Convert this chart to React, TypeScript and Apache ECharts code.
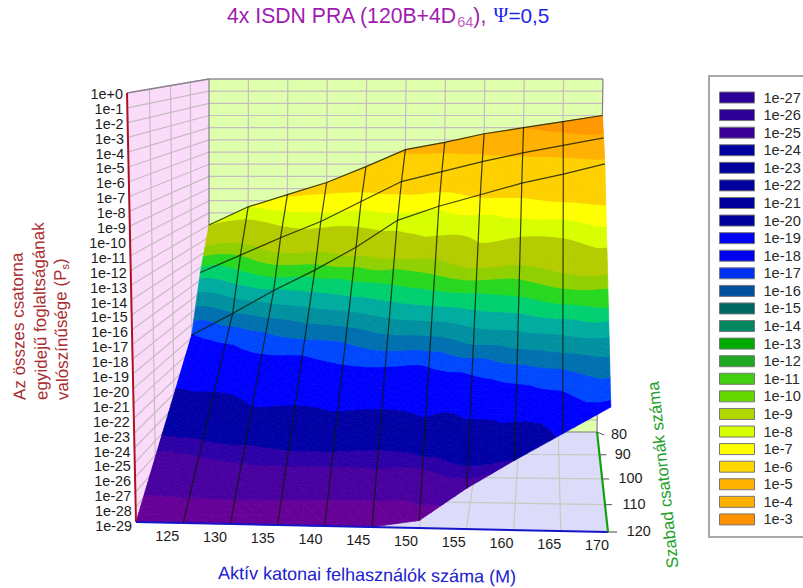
import React, { useEffect, useRef } from "react";
import * as echarts from "echarts";

// ---------- axes ----------
const xTicks = [120, 125, 130, 135, 140, 145, 150, 155, 160, 165, 170];
const yTicks = [80, 90, 100, 110, 120];
const zTicks = Array.from({ length: 30 }, (_, i) => -i);
const zTickLabels = ["1e+0","1e-1","1e-2","1e-3","1e-4","1e-5","1e-6","1e-7","1e-8","1e-9","1e-10","1e-11","1e-12","1e-13","1e-14","1e-15","1e-16","1e-17","1e-18","1e-19","1e-20","1e-21","1e-22","1e-23","1e-24","1e-25","1e-26","1e-27","1e-28","1e-29"];

// ---------- surface height, log10(Ps), for the free channel rows drawn ----------
const heightRows = [80, 85, 90, 120];
const height80 = [-12.0, -10.5, -9.5, -8.5, -7.2, -5.8, -5.2, -4.5, -4.0, -3.5, -3.0];
const height85 = [-15.4, -14.0, -12.6, -11.3, -9.7, -8.1, -7.3, -6.5, -5.8, -5.2, -4.6];
const height90 = [-19.8, -18.1, -16.3, -14.7, -12.9, -10.8, -9.7, -8.8, -7.9, -7.2, -6.4];
const height120 = [-29, -29, -29, -29, -29, -29, -28.5, -26.3, -24.4, -22.6, -20.8];
const heights = [height80, height85, height90, height120];

// ---------- contour shading level at each node ----------
const shadeRows = [80, 85, 90, 92.5, 95, 100, 105, 107.5, 110, 112.5, 115, 120];
const shade80 = [-9.0, -8.0, -6.9, -6.4, -5.7, -4.85, -4.57, -4.25, -4.0, -3.57, -3.06];
const shade85 = [-13.6, -12.0, -9.8, -8.5, -7.5, -6.35, -5.76, -5.28, -4.85, -4.52, -4.21];
const shade90 = [-18.06, -16.07, -14.14, -12.5, -10.23, -8.42, -7.91, -6.84, -6.23, -5.69, -5.18];
const shade925 = [-18.58, -17.35, -15.47, -13.98, -12.33, -9.89, -8.76, -8.27, -7.46, -6.66, -6.07];
const shade95 = [-19.09, -18.26, -16.85, -15.35, -13.85, -12.24, -11.0, -9.06, -8.5, -7.9, -6.98];
const shade100 = [-20.38, -19.41, -18.7, -18.0, -16.88, -15.28, -14.32, -13.0, -11.8, -10.23, -8.82];
const shade105 = [-23.66, -21.9, -20.05, -19.52, -19.03, -18.43, -17.84, -15.8, -14.52, -13.0, -11.86];
const shade1075 = [-24.5, -23.74, -22.18, -20.9, -19.88, -19.38, -18.91, -17.62, -15.77, -14.5, -12.9];
const shade110 = [-25.6, -24.85, -24.13, -23.32, -22.35, -21.05, -19.9, -18.69, -17.25, -15.68, -14.4];
const shade1125 = [-26.1, -25.66, -25.12, -24.75, -24.46, -24.05, -22.89, -19.62, -18.37, -17.0, -15.5];
const shade115 = [-26.77, -26.45, -26.1, -25.9, -25.67, -25.38, -24.92, -21.93, -19.23, -18.0, -16.48];
const shade120 = [-28.5, -28.5, -28.5, -28.63, -28.76, -28.74, -27.9, -25.81, -24.02, -19.56, -18.34];
const shades = [shade80, shade85, shade90, shade925, shade95, shade100, shade105, shade1075, shade110, shade1125, shade115, shade120];

// ---------- bands ----------
const bandLevels = [-28,-27,-26,-25,-24,-23,-22,-21,-20,-19,-18,-17,-16,-15,-14,-13,-12,-11,-10,-9,-8,-7,-6,-5,-4,-3];
const bandColors = ["#660099","#660099","#4800a0","#4800a0","#2c00a6","#0000a5","#0000a5","#0000a5","#0000a5","#0000ff","#0000ff","#0048ff","#0070b0","#0090a0","#00aca0","#00d070","#28d820","#90d000","#b4cc00","#b4cc00","#d8ff00","#ffff00","#ffd000","#ffd000","#ffb000","#ff9800"];
const legendLabels = ["1e-27","1e-26","1e-25","1e-24","1e-23","1e-22","1e-21","1e-20","1e-19","1e-18","1e-17","1e-16","1e-15","1e-14","1e-13","1e-12","1e-11","1e-10","1e-9","1e-8","1e-7","1e-6","1e-5","1e-4","1e-3"];
const legendColors = ["#2a0096","#2a0096","#3c0098","#0000a0","#00009c","#00009c","#00009c","#00009c","#0000f0","#0000f0","#0030f0","#0050a0","#006660","#008860","#00aa00","#20a820","#40d010","#66d800","#b0d800","#d8ff00","#ffff00","#ffd800","#ffb000","#ffb000","#ff9000"];

// ---------- box projection ----------
const lerp = (a: number, b: number, t: number) => a + (b - a) * t;
function depth(y: number) {
  const u = (120 - y) / 40;
  return (u * 1.13) / (1 + 0.13 * u);
}
function project(x: number, y: number, z: number): number[] {
  const u = (x - 120) / 50;
  const t = depth(y);
  const f = (z + 29) / 29;
  const fx = lerp(136 + 472 * u, 209 + 388 * u, t);
  const fy = lerp(522 + 10 * u, 432, t);
  const tx = lerp(127 + 491 * u, 209 + 394 * u, t);
  const ty = lerp(93 - 3 * u, 79, t);
  return [lerp(fx, tx, f), lerp(fy, ty, f)];
}
function surfacePoint(c: number, rowValue: number): number[] {
  const i = heightRows.indexOf(rowValue);
  if (i >= 0) return project(xTicks[c], rowValue, heights[i][c]);
  const a = project(xTicks[c], 90, height90[c]);
  const b = project(xTicks[c], 120, height120[c]);
  const s = (rowValue - 90) / 30;
  return [lerp(a[0], b[0], s), lerp(a[1], b[1], s)];
}

type V = { p: number[]; v: number };
function clip(poly: V[], level: number, keepAbove: boolean): V[] {
  const out: V[] = [];
  const inside = (q: V) => (keepAbove ? q.v >= level : q.v <= level);
  for (let i = 0; i < poly.length; i++) {
    const a = poly[i];
    const b = poly[(i + 1) % poly.length];
    if (inside(a)) out.push(a);
    if (inside(a) !== inside(b)) {
      const s = (level - a.v) / (b.v - a.v);
      out.push({ p: [lerp(a.p[0], b.p[0], s), lerp(a.p[1], b.p[1], s)], v: level });
    }
  }
  return out;
}

// shading between columns: smooth spline along the row, straight between rows
const SUB = 4;
function splineAlongRow(r: number, c: number, s: number) {
  const row = shades[r];
  const last = row.length - 1;
  const p0 = row[Math.max(c - 1, 0)], p1 = row[c], p2 = row[Math.min(c + 1, last)], p3 = row[Math.min(c + 2, last)];
  return 0.5 * (2 * p1 + (p2 - p0) * s + (2 * p0 - 5 * p1 + 4 * p2 - p3) * s * s + (3 * p1 - p0 - 3 * p2 + p3) * s * s * s);
}
const triCache: Record<string, V[][]> = {};
function cellTriangles(c: number, r: number): V[][] {
  const key = c + "_" + r;
  if (triCache[key]) return triCache[key];
  const A = surfacePoint(c, shadeRows[r]), B = surfacePoint(c + 1, shadeRows[r]);
  const C = surfacePoint(c + 1, shadeRows[r + 1]), D = surfacePoint(c, shadeRows[r + 1]);
  const nd = (i: number, j: number): V => {
    const s = i / SUB, q = j / SUB;
    const top = [lerp(A[0], B[0], s), lerp(A[1], B[1], s)];
    const bot = [lerp(D[0], C[0], s), lerp(D[1], C[1], s)];
    return {
      p: [lerp(top[0], bot[0], q), lerp(top[1], bot[1], q)],
      v: lerp(splineAlongRow(r, c, s), splineAlongRow(r + 1, c, s), q),
    };
  };
  const out: V[][] = [];
  for (let j = 0; j < SUB; j++)
    for (let i = 0; i < SUB; i++) {
      const a = nd(i, j), b = nd(i + 1, j), cc = nd(i + 1, j + 1), d = nd(i, j + 1);
      out.push([a, b, cc], [a, cc, d]);
    }
  triCache[key] = out;
  return out;
}
function bandPolygons(c: number, r: number, level: number): number[][][] {
  const res: number[][][] = [];
  for (const tri of cellTriangles(c, r)) {
    let poly = level === -28 ? tri : clip(tri, level - 1, true);
    if (poly.length >= 3) poly = level === -3 ? poly : clip(poly, level, false);
    if (poly.length >= 3) res.push(poly.map((q) => q.p));
  }
  return res;
}

const FONT = "'Liberation Sans', Arial, sans-serif";

function frameItem(_: any, api: any) {
  const P = (x: number, y: number, z: number) => api.coord(project(x, y, z));
  const gridStroke = "#c6bcc2";
  const ch: any[] = [];
  const poly = (pts: number[][], fill: string) => ch.push({ type: "polygon", shape: { points: pts }, style: { fill, stroke: "none" } });
  const line = (a: number[], b: number[], stroke: string, lineWidth: number) =>
    ch.push({ type: "line", shape: { x1: a[0], y1: a[1], x2: b[0], y2: b[1] }, style: { stroke, lineWidth } });

  poly([P(120, 80, 0), P(170, 80, 0), P(170, 80, -29), P(120, 80, -29)], "#deffac");
  poly([P(120, 120, 0), P(120, 80, 0), P(120, 80, -29), P(120, 120, -29)], "#fadcfa");
  poly([P(120, 120, -29), P(170, 120, -29), P(170, 80, -29), P(120, 80, -29)], "#dcdcfa");

  for (const z of zTicks) {
    line(P(120, 80, z), P(170, 80, z), gridStroke, 1.2);
    line(P(120, 120, z), P(120, 80, z), gridStroke, 1.2);
  }
  for (const x of xTicks.slice(1, -1)) {
    line(P(x, 80, 0), P(x, 80, -29), gridStroke, 1.2);
    line(P(x, 80, -29), P(x, 120, -29), "#c8c8c0", 1.2);
  }
  for (const y of yTicks.slice(1, -1)) {
    line(P(120, y, 0), P(120, y, -29), gridStroke, 1.2);
    line(P(120, y, -29), P(170, y, -29), "#c8c8c0", 1.2);
  }
  line(P(120, 120, 0), P(120, 80, 0), "#8c8090", 1.3);
  line(P(120, 80, 0), P(170, 80, 0), "#9c94a0", 1.3);
  line(P(120, 80, 0), P(120, 80, -29), "#80808a", 1.2);
  line(P(170, 80, 0), P(170, 80, -29), "#80808a", 1.2);
  line(P(120, 80, -29), P(170, 80, -29), "#909078", 1.2);
  return { type: "group", children: ch };
}

function axesItem(_: any, api: any) {
  const P = (x: number, y: number, z: number) => api.coord(project(x, y, z));
  const ch: any[] = [];
  const line = (a: number[], b: number[], stroke: string, lineWidth: number) =>
    ch.push({ type: "line", shape: { x1: a[0], y1: a[1], x2: b[0], y2: b[1] }, style: { stroke, lineWidth } });
  const text = (text: string, p: number[], align: string) =>
    ch.push({ type: "text", style: { text, x: p[0], y: p[1], align, verticalAlign: "middle", textAlign: align, textVerticalAlign: "middle", fill: "#1c1c1c", fontSize: 14.4, fontFamily: FONT } });

  line(P(120, 120, 0), P(120, 120, -29), "#b01024", 2);
  line(P(120, 120, -29), P(170, 120, -29), "#1414c8", 2);
  line(P(170, 80, -29), P(170, 120, -29), "#10a010", 2.2);
  zTicks.forEach((z, i) => {
    const p = P(120, 120, z);
    text(zTickLabels[i], [p[0] - 4, p[1] + 1 - (z / 29) * 3], "right");
  });
  for (const y of yTicks) {
    const p = P(170, y, -29);
    line(p, [p[0] + (y === 120 ? 9 : 7), p[1] + (y === 80 ? 3 : 0)], y === 120 ? "#444" : "#555", 1);
    text(String(y), [p[0] + 14 + (y - 80) * 0.12, p[1] + (y === 80 ? 3 : 0) - 1], "left");
  }
  for (const x of xTicks.slice(1)) {
    const p = P(x, 120, -29);
    text(String(x), [p[0] - 16 + ((x - 125) / 45) * 5, p[1] + 13], "center");
  }
  return { type: "group", children: ch };
}

function meshItem(_: any, api: any) {
  const ch: any[] = [];
  const stroke = "rgba(15,25,0,0.8)";
  const pl = (pts: number[][]) =>
    ch.push({ type: "polyline", shape: { points: pts.map((p) => api.coord(p)) }, style: { stroke, lineWidth: 1.2, fill: "none" } });
  for (const rowValue of [80, 85, 90]) pl(xTicks.map((_x, c) => surfacePoint(c, rowValue)));
  for (let c = 1; c < xTicks.length - 1; c++) pl(heightRows.map((rowValue) => surfacePoint(c, rowValue)));
  return { type: "group", children: ch };
}

export default function App() {
  const ref = useRef<HTMLDivElement>(null);
  useEffect(() => {
    if (!ref.current) return;
    const chart = echarts.init(ref.current, undefined, { renderer: "svg" });

    const bandSeries = bandLevels.map((level, bi) => {
      const cells: number[][] = [];
      for (let r = 0; r < shadeRows.length - 1; r++)
        for (let c = 0; c < xTicks.length - 1; c++)
          if (bandPolygons(c, r, level).length) cells.push([c, r]);
      const fill = bandColors[bi];
      return {
        type: "custom",
        name: "1e" + level,
        coordinateSystem: "cartesian2d",
        clip: false,
        silent: true,
        z: 3,
        itemStyle: { color: fill },
        encode: { x: 0, y: 1 },
        data: cells,
        renderItem: (_: any, api: any) => ({
          type: "group",
          children: bandPolygons(api.value(0), api.value(1), level).map((pts) => ({
            type: "polygon",
            shape: { points: pts.map((p) => api.coord(p)) },
            style: { fill, stroke: fill, lineWidth: 0.7 },
          })),
        }),
      };
    });

    const single = (name: string, z: number, renderItem: any) => ({
      type: "custom", name, coordinateSystem: "cartesian2d", clip: false, silent: true, z,
      encode: { x: 0, y: 1 }, data: [[0, 0]], renderItem,
    });

    chart.setOption({
      animation: false,
      backgroundColor: "#ffffff",
      grid: { left: 0, right: 0, top: 0, bottom: 0 },
      xAxis: { type: "value", min: 0, max: 803, show: false },
      yAxis: { type: "value", min: 0, max: 588, inverse: true, show: false },
      legend: {
        left: 719,
        top: 90,
        orient: "vertical",
        selectedMode: false,
        itemWidth: 35,
        itemHeight: 11,
        itemGap: 2.58,
        padding: 0,
        textStyle: { fontFamily: FONT, fontSize: 14.6, lineHeight: 14, color: "#2a2a2a", padding: [0, 0, 0, 4] },
        data: legendLabels.map((name, i) => ({
          name,
          icon: "rect",
          itemStyle: { color: legendColors[i], borderColor: "#777", borderWidth: 1 },
        })),
      },
      graphic: [
        { type: "rect", z: 0, shape: { x: 709, y: 76, width: 120, height: 461 }, style: { fill: "#fff", stroke: "#a8a8a8", lineWidth: 2 } },
        {
          type: "text", x: 227, y: 15,
          style: {
            text: "{a|4x ISDN PRA (120B+4D}{s|64}{a|),} {p|Ψ}{b|=0,5}",
            verticalAlign: "middle",
            rich: {
              a: { fill: "#a01cb0", fontSize: 21.2, lineHeight: 28, fontFamily: FONT },
              s: { fill: "#c060c8", fontSize: 14.5, verticalAlign: "bottom", lineHeight: 14, fontFamily: FONT },
              p: { fill: "#1c28ee", fontSize: 20, lineHeight: 28, fontFamily: "'Liberation Serif', serif", padding: [0, 0, 0, 4] },
              b: { fill: "#1c28ee", fontSize: 20.8, lineHeight: 28, fontFamily: FONT },
            },
          },
        },
        { type: "text", x: 20, y: 400, rotation: Math.PI / 2 + 0.02, style: { text: "Az összes csatorna", align: "left", verticalAlign: "middle", fill: "#a82c30", fontSize: 17, fontFamily: FONT } },
        { type: "text", x: 42, y: 400, rotation: Math.PI / 2 + 0.02, style: { text: "egyidejű foglaltságának", align: "left", verticalAlign: "middle", fill: "#a82c30", fontSize: 17, fontFamily: FONT } },
        {
          type: "text", x: 63, y: 400, rotation: Math.PI / 2 + 0.02,
          style: {
            text: "{a|valószínűsége (P}{s|s}{a|)}", align: "left", verticalAlign: "middle",
            rich: {
              a: { fill: "#a82c30", fontSize: 17, lineHeight: 20, fontFamily: FONT },
              s: { fill: "#a82c30", fontSize: 11, verticalAlign: "bottom", lineHeight: 12, fontFamily: FONT },
            },
          },
        },
        { type: "text", x: 218, y: 573, rotation: -0.0135, style: { text: "Aktív katonai felhasználók száma (M)", align: "left", verticalAlign: "middle", fill: "#2020cc", fontSize: 18, fontFamily: FONT } },
        { type: "text", x: 673, y: 568, rotation: Math.PI / 2 + 0.107, style: { text: "Szabad csatornák száma", align: "left", verticalAlign: "middle", fill: "#20a028", fontSize: 16.7, fontFamily: FONT } },
      ],
      series: [single("frame", 1, frameItem), ...bandSeries, single("mesh", 5, meshItem), single("axes", 6, axesItem)],
    });
    return () => chart.dispose();
  }, []);
  return <div ref={ref} style={{ position: "fixed", left: 0, top: 0, width: 803, height: 588 }} />;
}
